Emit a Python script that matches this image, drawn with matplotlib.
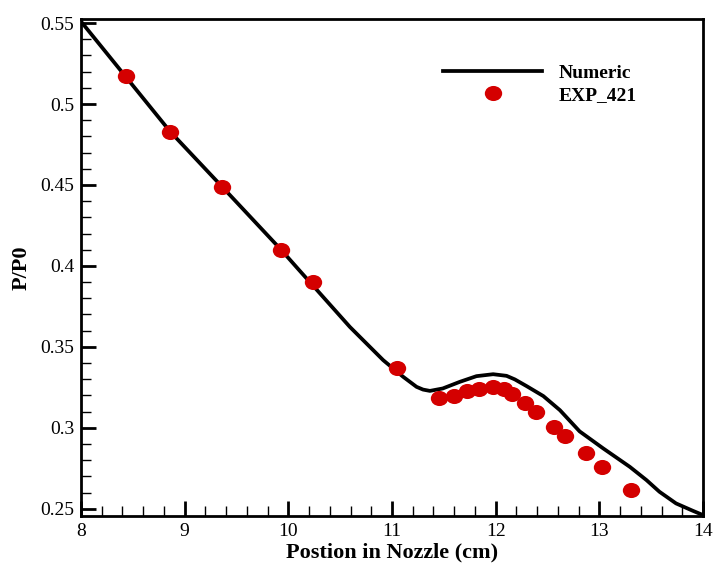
import numpy as np
import matplotlib.pyplot as plt
from matplotlib.path import Path
from matplotlib.ticker import MultipleLocator

# numerical pressure ratio along the nozzle
x_num = [8.0, 8.43, 8.86, 9.36, 9.93, 10.11, 10.24, 10.594, 10.915, 11.108,
         11.237, 11.3, 11.366, 11.49, 11.655, 11.815, 11.976, 12.105, 12.185,
         12.30, 12.46, 12.62, 12.81, 13.037, 13.294, 13.455, 13.58, 13.74,
         13.90, 14.0]
p_num = [0.551, 0.517, 0.483, 0.449, 0.410, 0.397, 0.3877, 0.3623, 0.3418,
         0.3315, 0.3253, 0.3236, 0.3228, 0.3243, 0.3284, 0.3319, 0.3331, 0.3321,
         0.3299, 0.3257, 0.3196, 0.3109, 0.2978, 0.2873, 0.2759, 0.2677, 0.2605,
         0.2533, 0.2488, 0.2461]

# experiment 421
x_exp = [8.43, 8.86, 9.36, 9.93, 10.24, 11.05, 11.455, 11.597, 11.72, 11.84,
         11.97, 12.08, 12.16, 12.28, 12.385, 12.56, 12.667, 12.87, 13.03, 13.31]
p_exp = [0.517, 0.483, 0.4486, 0.4097, 0.390, 0.3369, 0.3181, 0.3196, 0.3227,
         0.3237, 0.325, 0.324, 0.3206, 0.3154, 0.3097, 0.3002, 0.2949, 0.2842,
         0.2756, 0.2615]

plt.rcParams['font.family'] = 'Liberation Serif'

# slightly wide dot for the measurements
circ = Path.unit_circle()
dot = Path(circ.vertices * [1.15, 1.0], circ.codes)

fig = plt.figure(figsize=(7.16, 5.68), dpi=100)
ax = fig.add_axes([0.1131, 0.0915, 0.8687, 0.875])

ax.plot(x_num, p_num, color='black', lw=2.7, label='Numeric', zorder=2,
        solid_joinstyle='round')
ax.plot(x_exp, p_exp, ls='none', marker=dot, color='#d40000', ms=12.5,
        mec='none', label='EXP_421', zorder=3)

ax.set_xlim(8, 14)
ax.set_ylim(0.2455, 0.5525)
ax.xaxis.set_major_locator(MultipleLocator(1))
ax.xaxis.set_minor_locator(MultipleLocator(0.2))
ax.yaxis.set_minor_locator(MultipleLocator(0.01))
ax.set_yticks([0.25, 0.3, 0.35, 0.4, 0.45, 0.5, 0.55])
ax.set_yticklabels(['0.25', '0.3', '0.35', '0.4', '0.45', '0.5', '0.55'])

ax.tick_params(which='both', direction='in', top=False, right=False,
               labelsize=14)
ax.tick_params(which='major', length=11, width=2, pad=5)
ax.tick_params(which='minor', length=7, width=1)
for s in ax.spines.values():
    s.set_linewidth(2)

ax.set_xlabel('Postion in Nozzle (cm)', fontsize=16, fontweight='bold',
              labelpad=2)
ax.set_ylabel('P/P0', fontsize=16, fontweight='bold', labelpad=6)

ax.legend(loc='upper left', bbox_to_anchor=(443 / 716, 1 - 64 / 568),
          bbox_transform=fig.transFigure, frameon=False, borderpad=0,
          borderaxespad=0, prop={'weight': 'bold', 'size': 14},
          handlelength=5.1, handletextpad=0.85, labelspacing=0.26)

fig.savefig('out.png', dpi=100)
